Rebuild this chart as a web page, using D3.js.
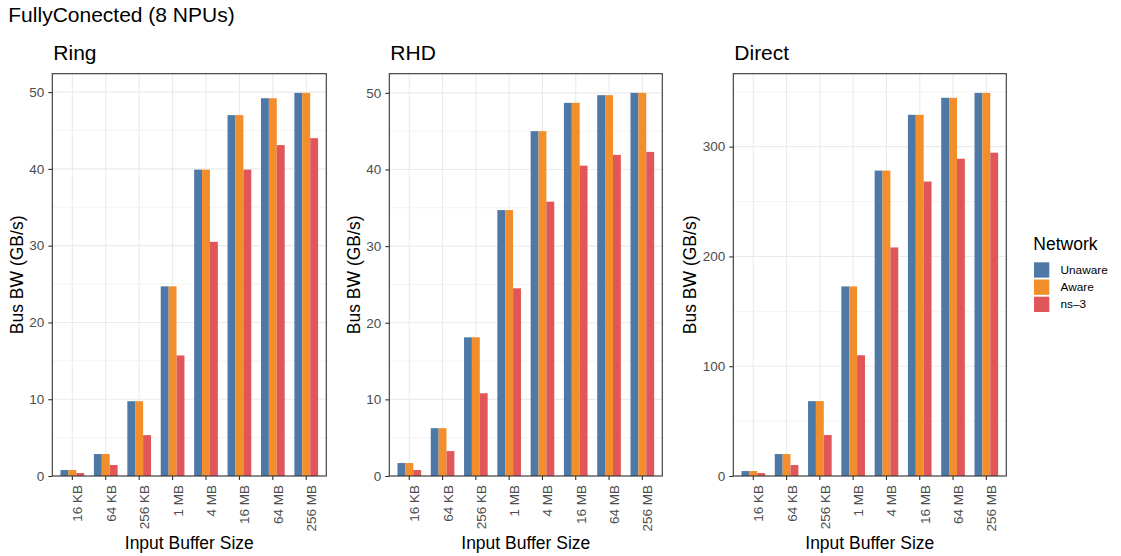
<!DOCTYPE html>
<meta charset="utf-8">
<style>
body { margin: 0; background: white; font-family: "Liberation Sans", Arial, Helvetica, sans-serif; }
.tick text { fill: #4d4d4d; font-size: 13.5px; }
.axis-title { font-size: 17.5px; fill: black; }
.panel-title { font-size: 21px; fill: black; }
</style>
<body>
<script src="https://cdn.jsdelivr.net/npm/d3@7"></script>
<script>

var width = 1121, height = 556;

var sizes = ["16 KB", "64 KB", "256 KB", "1 MB", "4 MB", "16 MB", "64 MB", "256 MB"];
var series = ["Unaware", "Aware", "ns\u20133"];
var colors = ["#4e79a7", "#f28e2b", "#e15759"];

// Ring
var ringUnaware = [0.78, 2.86, 9.74, 24.7, 39.9, 47.0, 49.2, 49.9];
var ringAware   = [0.78, 2.86, 9.74, 24.7, 39.9, 47.0, 49.2, 49.9];
var ringNs3     = [0.39, 1.43, 5.32, 15.7, 30.5, 39.9, 43.1, 44.0];
// RHD
var rhdUnaware = [1.69, 6.24, 18.1, 34.7, 45.0, 48.7, 49.7, 50.0];
var rhdAware   = [1.69, 6.24, 18.1, 34.7, 45.0, 48.7, 49.7, 50.0];
var rhdNs3     = [0.78, 3.25, 10.8, 24.5, 35.8, 40.5, 41.9, 42.3];
// Direct
var directUnaware = [4.5, 20, 68.2, 172.7, 278.2, 329, 344.5, 349];
var directAware   = [4.5, 20, 68.2, 172.7, 278.2, 329, 344.5, 349];
var directNs3     = [2.7, 10, 37.3, 110, 208.2, 268.2, 289, 294.5];

var ringTicks = [0, 10, 20, 30, 40, 50];
var directTicks = [0, 100, 200, 300];

var panels = [
  {title: "Ring", left: 52.3, right: 326.3, data: [ringUnaware, ringAware, ringNs3], ticks: ringTicks, step: 10},
  {title: "RHD", left: 389.3, right: 662.3, data: [rhdUnaware, rhdAware, rhdNs3], ticks: ringTicks, step: 10},
  {title: "Direct", left: 733.3, right: 1006.3, data: [directUnaware, directAware, directNs3], ticks: directTicks, step: 100}
];

var panelTop = 73.7, panelBottom = 476;

var svg = d3.select("body").append("svg")
    .attr("width", width)
    .attr("height", height);

svg.append("text")
    .attr("x", 8.3)
    .attr("y", 21.7)
    .attr("class", "panel-title")
    .text("FullyConected (8 NPUs)");

panels.forEach(function(p) {
  var g = svg.append("g");

  var rows = sizes.map(function(s, i) {
    return {size: s, values: series.map(function(k, j) { return {key: k, j: j, v: p.data[j][i]}; })};
  });

  var maxV = d3.max(p.data, function(arr) { return d3.max(arr); });

  var x = d3.scaleBand()
      .domain(sizes)
      .range([p.left, p.right])
      .paddingInner(0.29)
      .paddingOuter(0.245);

  var xs = d3.scaleBand()
      .domain(series)
      .range([0, x.bandwidth()]);

  var y = d3.scaleLinear()
      .domain([0, maxV * 1.05])
      .range([panelBottom, panelTop]);

  var minor = d3.range(p.step / 2, maxV * 1.05, p.step);

  // grid
  g.selectAll(".minor")
      .data(minor)
    .enter().append("line")
      .attr("x1", p.left).attr("x2", p.right)
      .attr("y1", function(d) { return y(d); })
      .attr("y2", function(d) { return y(d); })
      .attr("stroke", "#ebebeb")
      .attr("stroke-width", 0.6);

  g.selectAll(".major")
      .data(p.ticks)
    .enter().append("line")
      .attr("x1", p.left).attr("x2", p.right)
      .attr("y1", function(d) { return y(d); })
      .attr("y2", function(d) { return y(d); })
      .attr("stroke", "#ebebeb")
      .attr("stroke-width", 1.1);

  g.selectAll(".vgrid")
      .data(sizes)
    .enter().append("line")
      .attr("x1", function(d) { return x(d) + x.bandwidth() / 2; })
      .attr("x2", function(d) { return x(d) + x.bandwidth() / 2; })
      .attr("y1", panelTop).attr("y2", panelBottom)
      .attr("stroke", "#ebebeb")
      .attr("stroke-width", 1.1);

  // bars
  g.selectAll(".grp")
      .data(rows)
    .enter().append("g")
      .attr("transform", function(d) { return "translate(" + x(d.size) + ",0)"; })
    .selectAll("rect")
      .data(function(d) { return d.values; })
    .enter().append("rect")
      .attr("x", function(d) { return xs(d.key); })
      .attr("width", xs.bandwidth())
      .attr("y", function(d) { return y(d.v); })
      .attr("height", function(d) { return panelBottom - y(d.v); })
      .attr("fill", function(d) { return colors[d.j]; });

  // border
  g.append("rect")
      .attr("x", p.left).attr("y", panelTop)
      .attr("width", p.right - p.left)
      .attr("height", panelBottom - panelTop)
      .attr("fill", "none")
      .attr("stroke", "#333333")
      .attr("stroke-width", 1.1);

  // axes
  var yAxis = g.append("g")
      .attr("transform", "translate(" + p.left + ",0)")
      .call(d3.axisLeft(y).tickValues(p.ticks).tickSize(4).tickPadding(4).tickFormat(d3.format("d")));
  yAxis.select(".domain").remove();
  yAxis.selectAll(".tick line").attr("stroke", "#333333").attr("stroke-width", 1.1);
  yAxis.selectAll(".tick text").attr("font-family", null).attr("font-size", null);

  var xAxis = g.append("g")
      .attr("transform", "translate(0," + panelBottom + ")")
      .call(d3.axisBottom(x).tickSize(4));
  xAxis.select(".domain").remove();
  xAxis.selectAll(".tick line").attr("stroke", "#333333").attr("stroke-width", 1.1);
  xAxis.selectAll(".tick text")
      .attr("font-family", null).attr("font-size", null)
      .attr("text-anchor", "end")
      .attr("dy", null)
      .attr("y", 0)
      .attr("transform", "translate(10,9) rotate(-90)");

  var labW = yAxis.node().getBBox().width;

  g.append("text")
      .attr("class", "axis-title")
      .attr("text-anchor", "middle")
      .attr("transform", "translate(" + (p.left - labW - 6.6) + "," + ((panelTop + panelBottom) / 2) + ") rotate(-90)")
      .text("Bus BW (GB/s)");

  g.append("text")
      .attr("class", "axis-title")
      .attr("text-anchor", "middle")
      .attr("x", (p.left + p.right) / 2)
      .attr("y", 549.3)
      .text("Input Buffer Size");

  g.append("text")
      .attr("class", "panel-title")
      .attr("x", p.left + 1)
      .attr("y", 60)
      .text(p.title);
});

// legend
var legend = svg.append("g");
legend.append("text")
    .attr("class", "axis-title")
    .attr("x", 1033.3)
    .attr("y", 250)
    .text("Network");

var key = legend.selectAll(".key")
    .data(series)
  .enter().append("g")
    .attr("transform", function(d, i) { return "translate(1034," + (262.3 + i * 17.2) + ")"; });
key.append("rect")
    .attr("width", 15.3)
    .attr("height", 15.3)
    .attr("fill", function(d, i) { return colors[i]; });
key.append("text")
    .attr("x", 26.5)
    .attr("y", 11.8)
    .attr("font-size", "11.8px")
    .text(function(d) { return d; });

</script>
